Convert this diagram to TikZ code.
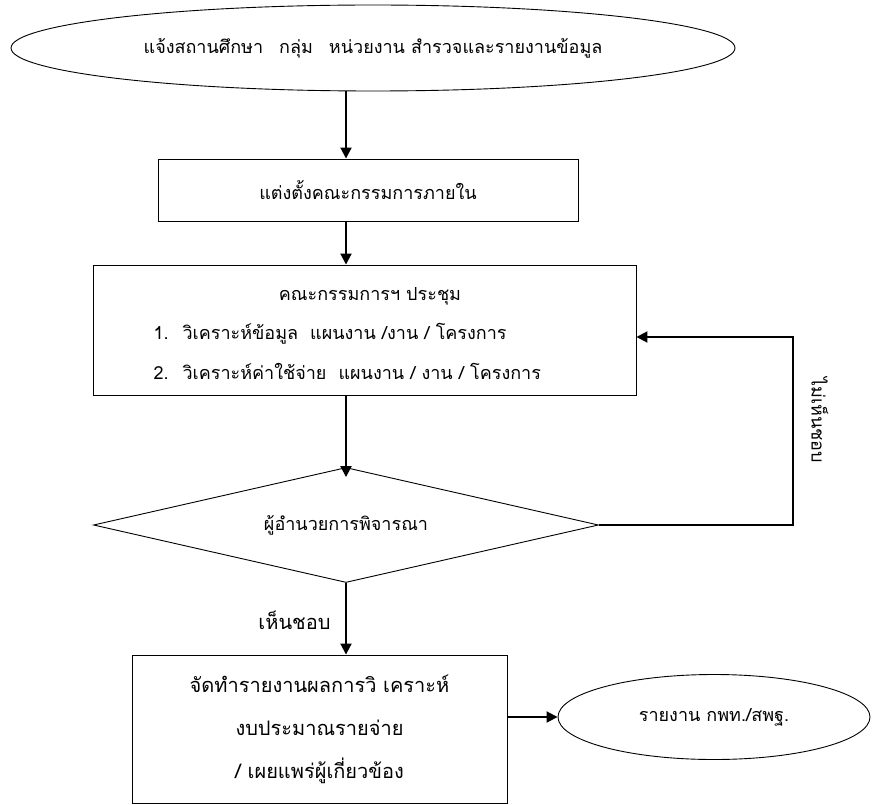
\documentclass[tikz,border=0pt]{standalone}
\usepackage{fontspec}
\newfontfamily\thaifont[Script=Thai]{Loma}
\usetikzlibrary{shapes.geometric,arrows.meta}
\begin{document}
\begin{tikzpicture}[x=1pt,y=-1pt,>={Triangle[length=11pt,width=11pt]},font=\thaifont\fontsize{18}{21}\selectfont,
	box/.style={draw,line width=0.9pt,rectangle,inner sep=0pt},
	oval/.style={draw,line width=0.9pt,ellipse,inner sep=0pt},
	flow/.style={->,line width=2pt}]
	\useasboundingbox (0,0) rectangle (872,805);
	\coordinate (spine) at (346,0);
	\coordinate (turn) at (793,337);
	\node[oval,minimum width=724pt,minimum height=86pt] (notify) at (373,48) {แจ้งสถานศึกษา\hspace{16pt}กลุ่ม\hspace{16pt}หน่วยงาน สำรวจและรายงานข้อมูล};
	\node[box,minimum width=420pt,minimum height=62pt] (appoint) at (368,190) {แต่งตั้งคณะกรรมการภายใน};
	\node[box,minimum width=543pt,minimum height=130pt] (meet) at (364.5,330) {};
	\node (meettitle) at (370,296) {คณะกรรมการฯ ประชุม};
	\node[anchor=west] (meetone) at (150,334) {1.\hspace{14pt}วิเคราะห์ข้อมูล\hspace{12pt}แผนงาน /งาน / โครงการ};
	\node[anchor=west] (meettwo) at (150,371) {2.\hspace{14pt}วิเคราะห์ค่าใช้จ่าย\hspace{12pt}แผนงาน / งาน / โครงการ};
	\node[draw,line width=0.9pt,diamond,aspect=4.4,minimum width=505pt,minimum height=115pt,inner sep=0pt] (decide) at (346,525) {ผู้อำนวยการพิจารณา};
	\node[box,minimum width=375pt,minimum height=148pt,align=center,font=\thaifont\fontsize{20}{43}\selectfont] (report) at (319.5,729)
		{จัดทำรายงานผลการวิ เคราะห์\\งบประมาณรายจ่าย\\/ เผยแพร่ผู้เกี่ยวข้อง};
	\node[oval,minimum width=312pt,minimum height=85pt] (publish) at (714,717) {รายงาน กพท./สพฐ.};
	\node[anchor=east,font=\thaifont\fontsize{20}{24}\selectfont] (agree) at (334,620) {เห็นชอบ};
	\node[rotate=-90] (disagree) at (820,420) {ไม่เห็นชอบ};
	\draw[flow] (notify.south -| spine) -- (appoint.north -| spine);
	\draw[flow] (appoint.south -| spine) -- (meet.north -| spine);
	\draw[flow] (meet.south -| spine) -- ([yshift=-10pt]decide.north);
	\draw[flow] (decide.south) -- (report.north -| decide.south);
	\draw[flow] (report.east |- publish.west) -- (publish.west);
	\draw[flow] (decide.east) -| (turn) -- (turn -| meet.east);
\end{tikzpicture}
\end{document}
